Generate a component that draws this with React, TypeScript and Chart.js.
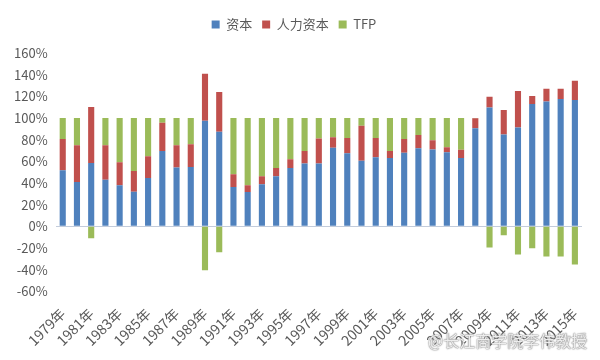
import React, { useEffect, useRef } from "react";
import { Chart, registerables } from "chart.js";

Chart.register(...registerables);

const years: string[] = [
  "1979年","1980年","1981年","1982年","1983年","1984年","1985年","1986年","1987年","1988年",
  "1989年","1990年","1991年","1992年","1993年","1994年","1995年","1996年","1997年","1998年",
  "1999年","2000年","2001年","2002年","2003年","2004年","2005年","2006年","2007年","2008年",
  "2009年","2010年","2011年","2012年","2013年","2014年","2015年",
];

const capital: number[] = [
  51.7, 40.9, 58.5, 43.0, 37.8, 31.9, 44.6, 69.6, 54.2, 54.8,
  97.5, 87.3, 36.2, 31.6, 38.7, 46.1, 53.9, 57.9, 57.9, 72.4,
  67.5, 60.4, 63.8, 63.1, 67.8, 72.1, 70.9, 68.4, 63.1, 90.4,
  109.6, 84.8, 91.3, 113.0, 115.1, 117.6, 116.7,
];

const humanCapital: number[] = [
  28.8, 34.0, 51.7, 31.9, 21.3, 19.2, 20.1, 26.0, 20.7, 21.0,
  43.3, 36.8, 11.8, 6.2, 7.4, 7.8, 8.0, 11.7, 23.2, 9.9,
  13.9, 32.5, 17.6, 6.5, 12.7, 12.1, 8.6, 4.6, 7.5, 9.3,
  9.9, 22.6, 33.7, 7.4, 11.8, 9.3, 17.6,
];

const tfp: number[] = [
  19.5, 25.1, -11.1, 25.1, 40.9, 48.9, 35.3, 4.4, 25.1, 24.2,
  -40.5, -24.1, 52.0, 62.2, 53.9, 46.1, 38.1, 30.4, 18.9, 17.7,
  18.6, 7.1, 18.6, 30.4, 19.5, 15.8, 20.5, 27.0, 29.4, 0.3,
  -19.5, -8.4, -26.0, -20.4, -27.9, -27.9, -35.3,
];

const seriesNames: string[] = ["资本", "人力资本", "TFP"];
const yMin = -60;
const yMax = 160;
const yStep = 20;

const FONT = "'Microsoft YaHei', 'Noto Sans CJK SC', sans-serif";
const TEXT = "#595959";

const legendGap = {
  id: "legendGap",
  beforeInit(chart: any) {
    const legend = chart.legend;
    if (!legend) return;
    const orig = legend.fit;
    legend.fit = function () {
      orig.call(this);
      this.height += 12;
    };
  },
};

export default function App() {
  const ref = useRef<HTMLCanvasElement | null>(null);

  useEffect(() => {
    if (!ref.current) return;
    const chart = new Chart(ref.current, {
      type: "bar",
      data: {
        labels: years,
        datasets: [
          { label: seriesNames[0], data: capital, backgroundColor: "#4F81BD" },
          { label: seriesNames[1], data: humanCapital, backgroundColor: "#C0504D" },
          { label: seriesNames[2], data: tfp, backgroundColor: "#9BBB59" },
        ],
      },
      plugins: [legendGap],
      options: {
        responsive: false,
        animation: false,
        maintainAspectRatio: false,
        datasets: { bar: { barPercentage: 0.43, categoryPercentage: 1 } },
        layout: { padding: { top: 8, left: 6, right: 18, bottom: 5 } },
        plugins: {
          tooltip: { enabled: false },
          legend: {
            position: "top",
            labels: {
              boxWidth: 8,
              boxHeight: 8,
              padding: 10,
              color: TEXT,
              font: { family: FONT, size: 13 },
            },
          },
        },
        scales: {
          x: {
            stacked: true,
            grid: { display: false },
            border: { display: false },
            afterFit: (s: any) => {
              s.paddingLeft = 0;
              s.paddingRight = 0;
            },
            ticks: {
              autoSkip: false,
              minRotation: 45,
              maxRotation: 45,
              padding: 6,
              color: TEXT,
              font: { family: FONT, size: 14 },
              callback: (_v: any, i: number) => (i % 2 === 0 ? years[i] : ""),
            },
          },
          y: {
            stacked: true,
            min: yMin,
            max: yMax,
            border: { display: false },
            grid: {
              drawTicks: false,
              color: (ctx: any) => (ctx.tick && ctx.tick.value === 0 ? "#C3CCDB" : "rgba(0,0,0,0)"),
              lineWidth: 1,
            },
            ticks: {
              stepSize: yStep,
              padding: 8,
              color: TEXT,
              font: { family: FONT, size: 13 },
              callback: (v: any) => v + "%",
            },
          },
        },
      },
    });
    return () => chart.destroy();
  }, []);

  return (
    <div style={{ position: "fixed", left: 0, top: 0, width: 600, height: 360, background: "#fff" }}>
      <canvas ref={ref} width={600} height={360} style={{ width: 600, height: 360 }} />
      <div
        style={{
          position: "absolute",
          left: 428,
          top: 328,
          fontFamily: FONT,
          fontSize: 16,
          color: "rgba(255,255,255,0.85)",
          textShadow: "0 0 1px #888, 0 0 1px #888, 0 0 2px #999",
          whiteSpace: "nowrap",
        }}
      >
        @长江商学院李伟教授
      </div>
    </div>
  );
}
